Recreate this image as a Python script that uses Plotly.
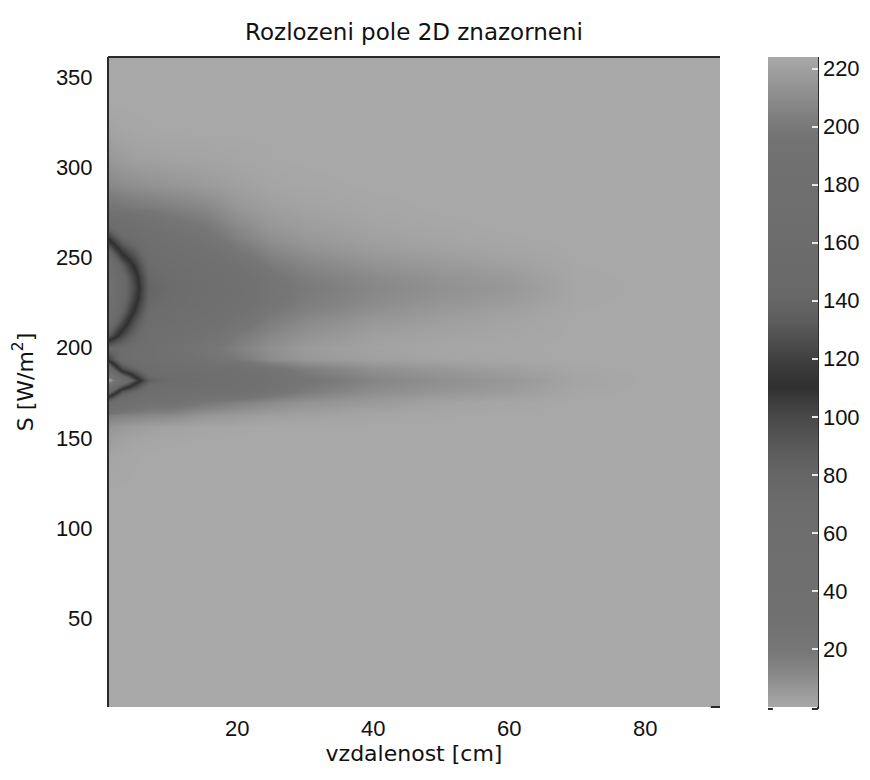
import plotly.graph_objects as go

# Distance from the source [cm] (columns of the field table)
distance_cm = [1, 3, 5, 7, 10, 15, 20, 25, 30, 40, 50, 60, 70, 80, 91]

# Vertical coordinate (rows of the field table)
s_levels = [1, 120, 140, 148, 156, 163, 170, 176, 182, 188, 194, 200, 207, 214,
            221, 227, 233, 239, 246, 253, 260, 268, 278, 290, 305, 320, 335, 361]

# Field magnitude, one row per s_level, one value per distance column
field = [
    [0,   0,   0,   0,   0,   0,   0,   0,   0,   0,   0,   0,   0,   0, 0],   # 1
    [0,   0,   0,   0,   0,   0,   0,   0,   0,   0,   0,   0,   0,   0, 0],   # 120
    [1.5, 0.8, 0.3, 0,   0,   0,   0,   0,   0,   0,   0,   0,   0,   0, 0],   # 140
    [4,   2,   1,   0.5, 0.3, 0,   0,   0,   0,   0,   0,   0,   0,   0, 0],   # 148
    [7,   5,   4,   3,   2,   1,   0.5, 0,   0,   0,   0,   0,   0,   0, 0],   # 156
    [16,  14,  13,  12,  11,  7,   5,   3.5, 2.5, 1,   0.3, 0,   0,   0, 0],   # 163
    [75,  45,  35,  28,  28,  20,  15,  11,  8,   5,   2,   0.8, 0,   0, 0],   # 170
    [150, 95,  78,  55,  45,  40,  35,  25,  17,  10,  7,   4.5, 0.5, 0, 0],   # 176
    [224, 170, 125, 85,  72,  58,  44,  30,  22,  13,  9,   6,   1.5, 0, 0],   # 182
    [160, 100, 80,  58,  50,  42,  36,  24,  16,  9,   6,   3.5, 0.4, 0, 0],   # 188
    [105, 65,  55,  45,  36,  27,  18,  10,  6,   3,   1.5, 0.6, 0,   0, 0],   # 194
    [75,  70,  58,  45,  33,  23,  15,  9,   5,   2,   0.8, 0.3, 0,   0, 0],   # 200
    [135, 100, 78,  55,  42,  29,  19,  12,  8,   3.5, 1.8, 0.8, 0,   0, 0],   # 207
    [160, 125, 92,  64,  52,  37,  25,  16,  11,  6,   3.5, 1.5, 0,   0, 0],   # 214
    [175, 140, 108, 72,  62,  45,  31,  20,  15,  9,   5.5, 3,   0.2, 0, 0],   # 221
    [182, 148, 118, 78,  68,  51,  35,  23,  17,  11,  7.5, 5,   0.4, 0, 0],   # 227
    [185, 150, 122, 80,  70,  54,  37,  24,  18,  12,  8.5, 6,   0.6, 0, 0],   # 233
    [182, 148, 118, 78,  66,  50,  34,  22,  16,  11,  7.5, 5,   0.4, 0, 0],   # 239
    [172, 135, 106, 70,  56,  42,  28,  18,  13,  8,   5.5, 3,   0.2, 0, 0],   # 246
    [145, 108, 88,  60,  45,  33,  21,  13,  9,   5,   3,   1.2, 0,   0, 0],   # 253
    [112, 80,  65,  48,  35,  25,  15,  9,   6,   3,   1.2, 0.3, 0,   0, 0],   # 260
    [70,  50,  42,  33,  25,  19,  11,  6,   4,   1.5, 0.4, 0,   0,   0, 0],   # 268
    [22,  20,  18,  17,  15,  12,  6.5, 3.5, 2,   0.5, 0,   0,   0,   0, 0],   # 278
    [12,  10,  9,   8,   7,   5,   3,   1.2, 0.5, 0,   0,   0,   0,   0, 0],   # 290
    [6,   4,   3,   2.5, 2,   1.5, 0.8, 0.2, 0,   0,   0,   0,   0,   0, 0],   # 305
    [2,   1,   0.5, 0.3, 0,   0,   0,   0,   0,   0,   0,   0,   0,   0, 0],   # 320
    [0,   0,   0,   0,   0,   0,   0,   0,   0,   0,   0,   0,   0,   0, 0],   # 335
    [0,   0,   0,   0,   0,   0,   0,   0,   0,   0,   0,   0,   0,   0, 0],   # 361
]

x_ticks = [20, 40, 60, 80]
y_ticks = [50, 100, 150, 200, 250, 300, 350]
cbar_ticks = [20, 40, 60, 80, 100, 120, 140, 160, 180, 200, 220]

Z_MIN, Z_MAX = 0, 224

# Grey colormap: light at both ends, darkest band around 110
cmap_points = [
    (0, "#a8a8a8"), (3, "#a0a0a0"), (7, "#959595"), (11, "#8a8a8a"),
    (15, "#808080"), (20, "#767676"), (30, "#717171"), (70, "#6c6c6c"),
    (82, "#646464"), (92, "#565656"), (102, "#444444"), (110, "#303030"),
    (118, "#3c3c3c"), (126, "#4e4e4e"), (134, "#5e5e5e"), (142, "#686868"),
    (160, "#6c6c6c"), (195, "#727272"), (202, "#7c7c7c"), (210, "#8c8c8c"),
    (218, "#9c9c9c"), (224, "#a8a8a8"),
]
colorscale = [[(v - Z_MIN) / (Z_MAX - Z_MIN), c] for v, c in cmap_points]

W, H = 870, 780
ML, MR, MT, MB = 108, 150, 57, 73
plot_w = W - ML - MR
CB_LEFT, CB_THICK = 768, 50
cb_x0 = (CB_LEFT - ML) / plot_w
cb_x1 = (CB_LEFT + CB_THICK - ML) / plot_w

TICK_FONT = dict(family="Liberation Sans, Arial, sans-serif", size=22, color="#111111")
LABEL_FONT = dict(family="DejaVu Sans, sans-serif", size=22, color="#111111")

fig = go.Figure(go.Heatmap(
    x=distance_cm,
    y=s_levels,
    z=field,
    zmin=Z_MIN,
    zmax=Z_MAX,
    zsmooth="best",
    colorscale=colorscale,
    colorbar=dict(
        x=cb_x0, xanchor="left", xref="paper", xpad=0,
        y=0.5, yanchor="middle", len=1, lenmode="fraction", ypad=0,
        thickness=CB_THICK, thicknessmode="pixels",
        outlinewidth=0,
        tickmode="array", tickvals=cbar_ticks,
        ticks="inside", ticklen=6, tickwidth=1.5, tickcolor="#e8e8e8",
        tickfont=TICK_FONT,
    ),
    hoverinfo="skip",
))

shapes = [
    # axes box edges (left and top)
    dict(type="line", xref="paper", yref="paper", x0=0, x1=0, y0=0, y1=1,
         line=dict(color="#2a2a2a", width=2)),
    dict(type="line", xref="paper", yref="paper", x0=0, x1=1, y0=1, y1=1,
         line=dict(color="#2a2a2a", width=2)),
    dict(type="line", xref="paper", yref="paper", x0=0.985, x1=1, y0=0, y1=0,
         line=dict(color="#2a2a2a", width=2)),
    # colorbar right edge and corner marks
    dict(type="line", xref="paper", yref="paper", x0=cb_x1, x1=cb_x1, y0=-0.003, y1=1,
         line=dict(color="#2a2a2a", width=2)),
    dict(type="line", xref="paper", yref="paper", x0=cb_x1 - 0.01, x1=cb_x1, y0=-0.003, y1=-0.003,
         line=dict(color="#2a2a2a", width=2)),
    dict(type="line", xref="paper", yref="paper", x0=cb_x0, x1=cb_x0 + 0.008, y0=-0.003, y1=-0.003,
         line=dict(color="#2a2a2a", width=2)),
]
# white tick marks on the left side of the colorbar
for v in cbar_ticks:
    yy = (v - Z_MIN) / (Z_MAX - Z_MIN)
    shapes.append(dict(type="line", xref="paper", yref="paper",
                       x0=cb_x0, x1=cb_x0 + 6 / plot_w, y0=yy, y1=yy,
                       line=dict(color="#e8e8e8", width=1.5)))

fig.update_layout(
    width=W, height=H,
    margin=dict(l=ML, r=MR, t=MT, b=MB, autoexpand=False),
    paper_bgcolor="white",
    plot_bgcolor="white",
    title=dict(text="Rozlozeni pole 2D znazorneni", x=(ML + plot_w / 2) / W, xanchor="center",
               xref="container", y=1 - 32 / H, yanchor="middle", yref="container",
               font=dict(family="DejaVu Sans, sans-serif", size=23, color="#111111")),
    xaxis=dict(range=[1, 91], tickmode="array", tickvals=x_ticks,
               showgrid=False, zeroline=False, showline=False,
               ticks="outside", ticklen=2, tickcolor="rgba(0,0,0,0)",
               tickfont=TICK_FONT,
               title=dict(text="vzdalenost [cm]", font=LABEL_FONT, standoff=4)),
    yaxis=dict(range=[1, 361], tickmode="array", tickvals=y_ticks,
               showgrid=False, zeroline=False, showline=False,
               ticks="outside", ticklen=10, tickcolor="rgba(0,0,0,0)",
               tickfont=TICK_FONT,
               title=dict(text="S [W/m<sup>2</sup>]", font=LABEL_FONT, standoff=16)),
    shapes=shapes,
)

fig.write_html("out.html")
